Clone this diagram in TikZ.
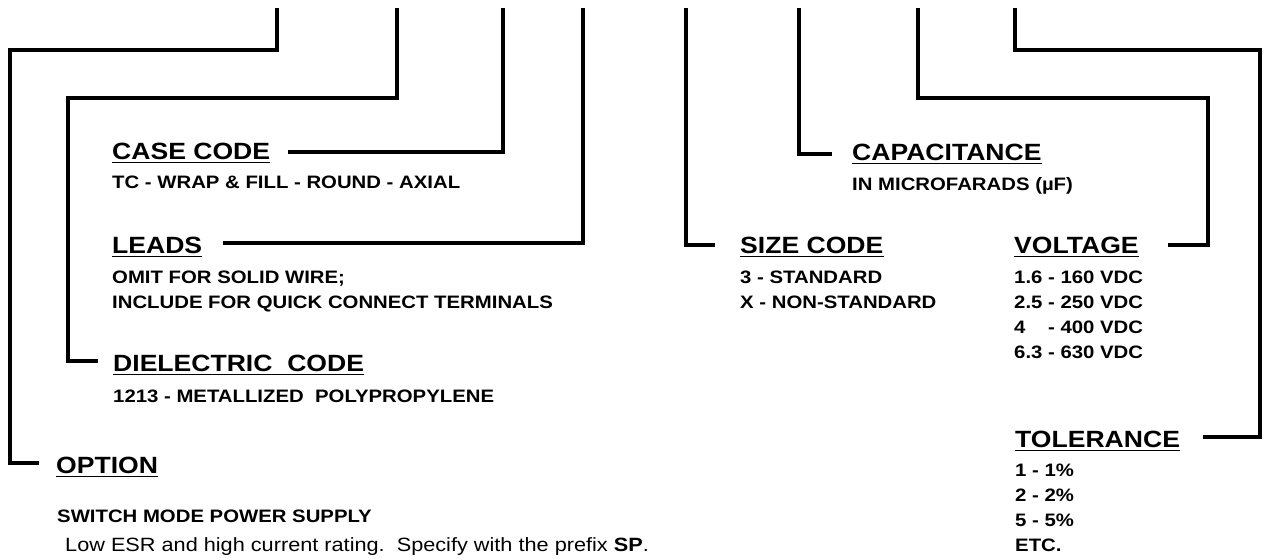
\documentclass[tikz,border=0pt]{standalone}
\usepackage{fontspec}
\setmainfont{Liberation Sans}[FakeStretch=1.13]
\begin{document}
\begin{tikzpicture}[x=1pt,y=-1pt,
  lead/.style={line width=4pt,line cap=rect,line join=miter},
  head/.style={anchor=base west,inner sep=0pt,font=\fontsize{23.5}{24}\selectfont\bfseries},
  sub/.style={anchor=base west,inner sep=0pt,font=\fontsize{18}{20}\selectfont\bfseries},
  plain/.style={anchor=base west,inner sep=0pt,font=\fontsize{19.2}{20}\selectfont},
  uline/.style={line width=1.4pt}]
\useasboundingbox (0,0) rectangle (1265,558);
% left column
\node[head] (cc) at (112,159.5) {CASE CODE};
\node[sub]  (cc1) at (112,188.5) {TC - WRAP \& FILL - ROUND - AXIAL};
\node[head] (ld) at (112,253.5) {LEADS};
\node[sub]  (ld1) at (112,283.5) {OMIT FOR SOLID WIRE;};
\node[sub]  (ld2) at (112,308.5) {INCLUDE FOR QUICK CONNECT TERMINALS};
\node[head] (de) at (113,371.5) {DIELECTRIC\ \ CODE};
\node[sub]  (de1) at (113,402.5) {1213 - METALLIZED\ \ POLYPROPYLENE};
\node[head] (op) at (56,473.5) {OPTION};
\node[sub]  (op1) at (57,522.5) {SWITCH MODE POWER SUPPLY};
\node[plain] (op2) at (65,551) {Low ESR and high current rating.\ \ Specify with the prefix \textbf{SP}.};
% middle / right
\node[head] (sz) at (740,253.5) {SIZE\ CODE};
\node[sub]  (sz1) at (740,283.5) {3 - STANDARD};
\node[sub]  (sz2) at (740,308.5) {X - NON-STANDARD};
\node[head] (ca) at (852,160.5) {CAPACITANCE};
\node[sub]  (ca1) at (852,190) {IN MICROFARADS (µF)};
\node[head] (vo) at (1014,253.5) {VOLTAGE};
\node[sub]  (vo1) at (1014,283.5) {1.6 - 160 VDC};
\node[sub]  (vo2) at (1014,308.5) {2.5 - 250 VDC};
\node[sub]  (vo3) at (1014,333.5) {4\ \ \ \ - 400 VDC};
\node[sub]  (vo4) at (1014,358.5) {6.3 - 630 VDC};
\node[head] (to) at (1015,447.5) {TOLERANCE};
\node[sub]  (to1) at (1015,476.7) {1 - 1\%};
\node[sub]  (to2) at (1015,501.7) {2 - 2\%};
\node[sub]  (to3) at (1015,526.7) {5 - 5\%};
\node[sub]  (to4) at (1015,551.7) {ETC.};
% underlines
\foreach \n in {cc,ld,de,op,sz,ca,vo,to}{
  \draw[uline] ([yshift=-3pt]\n.base west) -- ([yshift=-3pt]\n.base east);}
% top ends of the leaders
\coordinate (t1) at (277,10);
\coordinate (t2) at (397,10);
\coordinate (t3) at (503,10);
\coordinate (t4) at (583,10);
\coordinate (t5) at (686,10);
\coordinate (t6) at (799,10);
\coordinate (t7) at (918,10);
\coordinate (t8) at (1015,10);
% hook ends beside the headings
\coordinate (h1) at (37,463);
\coordinate (h2) at (96,361);
\coordinate (h3) at (290,152);
\coordinate (h4) at (225,243);
\coordinate (h5) at (713,245);
\coordinate (h6) at (830,154);
\coordinate (h7) at (1170,245);
\coordinate (h8) at (1205,437);
% connectors
\draw[lead] (t1) |- (10,50) |- (h1);
\draw[lead] (t2) |- (68,98) |- (h2);
\draw[lead] (t3) |- (h3);
\draw[lead] (t4) |- (h4);
\draw[lead] (t5) |- (h5);
\draw[lead] (t6) |- (h6);
\draw[lead] (t7) |- (1208,98) |- (h7);
\draw[lead] (t8) |- (1260,50) |- (h8);
\end{tikzpicture}
\end{document}
